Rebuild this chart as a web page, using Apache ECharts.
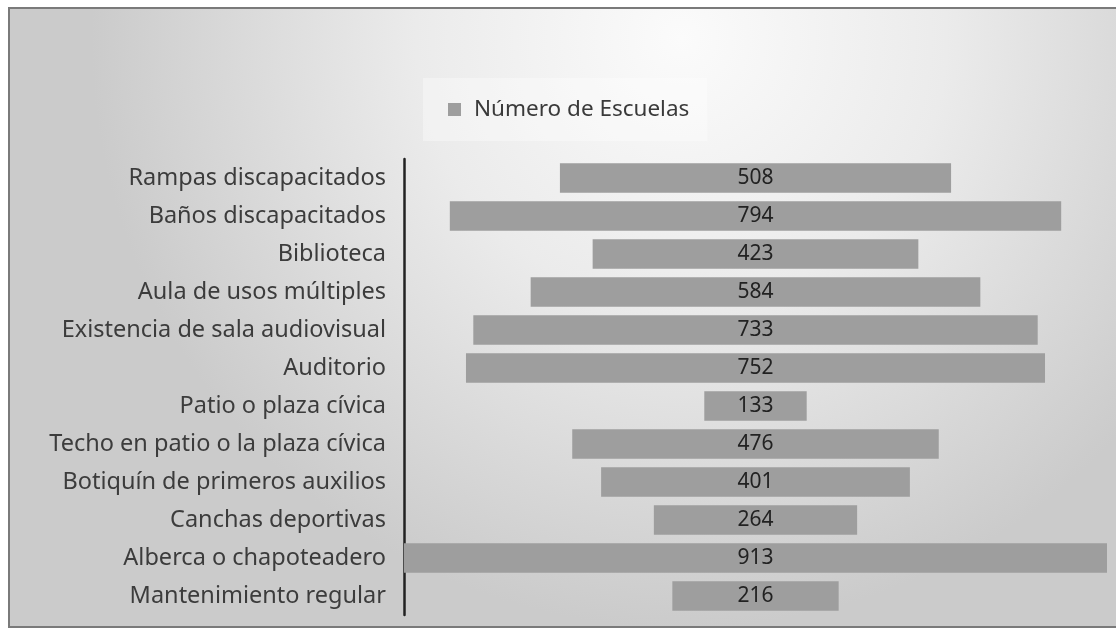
<!DOCTYPE html>
<html>
<head>
<meta charset="utf-8">
<script src="https://cdn.jsdelivr.net/npm/echarts@6/dist/echarts.min.js"></script>
<style>
  html, body { margin: 0; padding: 0; background: #ffffff; }
  #chart { width: 1116px; height: 629px; }
</style>
</head>
<body>
<div id="chart"></div>
<script>
// Facilities, listed top to bottom
const categories = [
  'Rampas discapacitados',
  'Baños discapacitados',
  'Biblioteca',
  'Aula de usos múltiples',
  'Existencia de sala audiovisual',
  'Auditorio',
  'Patio o plaza cívica',
  'Techo en patio o la plaza cívica',
  'Botiquín de primeros auxilios',
  'Canchas deportivas',
  'Alberca o chapoteadero',
  'Mantenimiento regular'
];
// Number of schools per facility
const schools = [508, 794, 423, 584, 733, 752, 133, 476, 401, 264, 913, 216];
const seriesName = 'Número de Escuelas';

const maxValue = Math.max(...schools);
// Invisible spacer so each bar sits centred (funnel layout)
const spacer = schools.map(v => (maxValue - v) / 2);

const chart = echarts.init(document.getElementById('chart'), null, { renderer: 'canvas' });
const font = 'Noto Sans, sans-serif';

chart.setOption({
  animation: false,
  backgroundColor: '#ffffff',
  graphic: [{
    type: 'rect',
    z: -10,
    silent: true,
    shape: { x: 9, y: 8, width: 1120, height: 619 },
    style: {
      fill: new echarts.graphic.RadialGradient(0.6, 0.05, 0.95, [
        { offset: 0, color: '#fbfbfb' },
        { offset: 0.45, color: '#ebebeb' },
        { offset: 1, color: '#cbcbcb' }
      ]),
      stroke: '#7a7a7a',
      lineWidth: 2
    }
  }],
  legend: {
    data: [{ name: seriesName, icon: 'rect' }],
    left: 423,
    top: 78,
    padding: [20, 18, 20, 25],
    itemWidth: 13,
    itemHeight: 13,
    backgroundColor: 'rgba(255,255,255,0.35)',
    textStyle: { fontFamily: font, fontSize: 22.5, color: '#3a3a3a', padding: [0, 0, 0, 8] }
  },
  grid: { left: 404, right: 9, top: 159, bottom: 14, containLabel: false },
  xAxis: {
    type: 'value',
    min: 0,
    max: maxValue,
    show: false
  },
  yAxis: {
    type: 'category',
    inverse: true,
    offset: 3,
    data: categories,
    axisLine: { show: true, lineStyle: { color: '#222222', width: 2.5 } },
    axisTick: { show: false },
    axisLabel: {
      margin: 15,
      fontFamily: font,
      fontSize: 23.5,
      color: '#3c3c3c'
    }
  },
  series: [
    {
      type: 'bar',
      stack: 'funnel',
      data: spacer,
      itemStyle: { color: 'transparent' },
      silent: true,
      barWidth: '78%'
    },
    {
      name: seriesName,
      type: 'bar',
      stack: 'funnel',
      data: schools,
      barWidth: '78%',
      itemStyle: { color: '#9e9e9e' },
      label: {
        show: true,
        position: 'inside',
        fontFamily: font,
        fontSize: 21,
        color: '#222222'
      }
    }
  ]
});
</script>
</body>
</html>
